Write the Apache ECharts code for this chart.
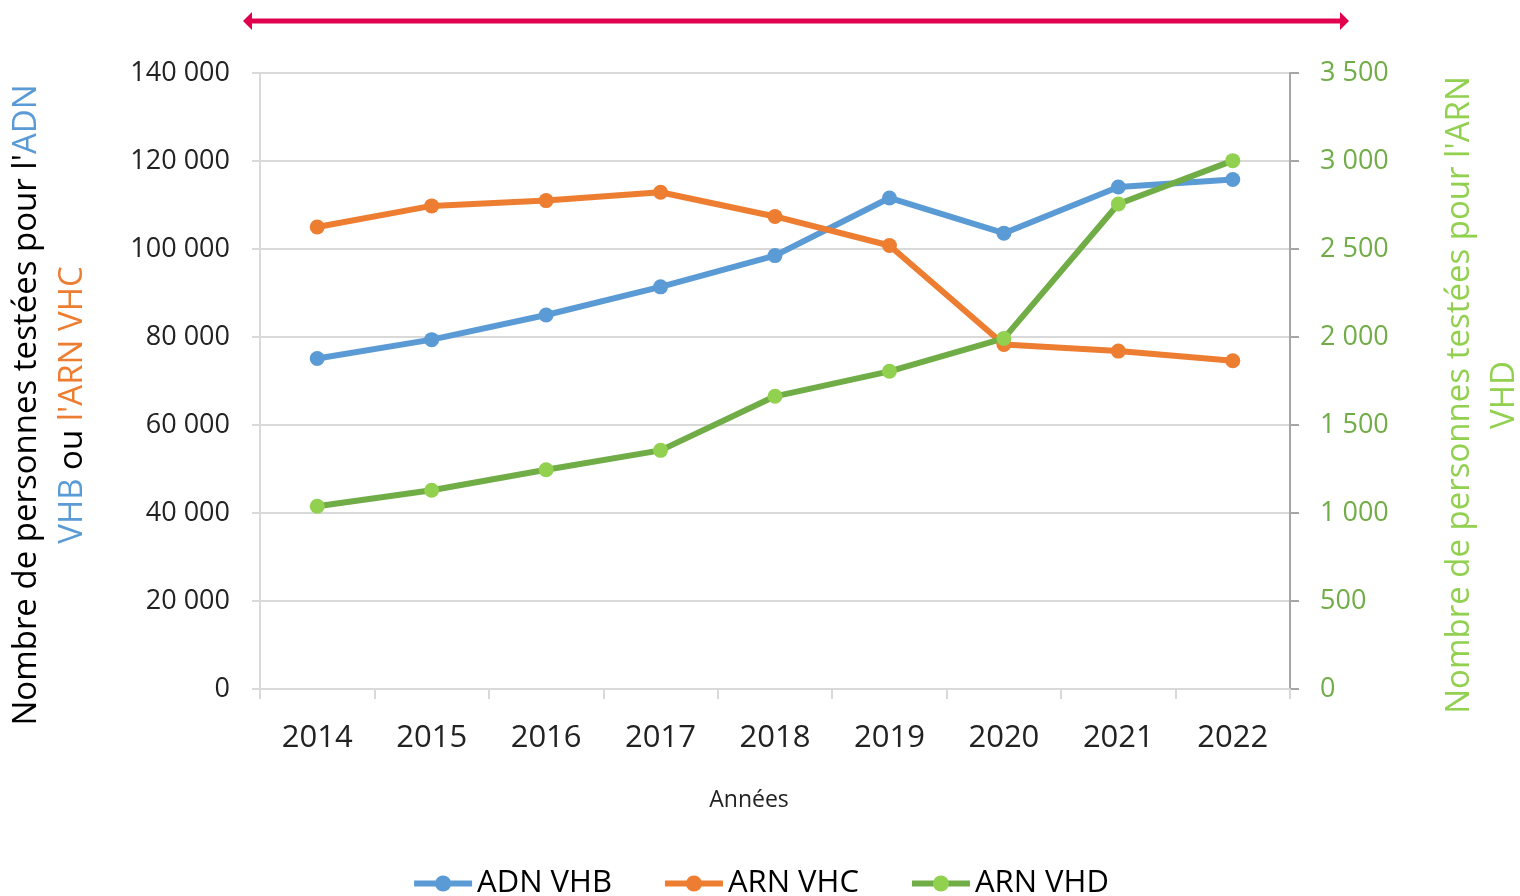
<!DOCTYPE html>
<html>
<head>
<meta charset="utf-8">
<script src="https://cdn.jsdelivr.net/npm/echarts@6/dist/echarts.min.js"></script>
<style>
  html, body { margin: 0; padding: 0; background: #fff; }
  #curve { width: 1520px; height: 896px; }
</style>
</head>
<body>
<div id="curve"></div>
<script>
var years = ['2014', '2015', '2016', '2017', '2018', '2019', '2020', '2021', '2022'];
var adnVhb = [75100, 79400, 85000, 91400, 98500, 111600, 103600, 114100, 115800];
var arnVhc = [105000, 109800, 111000, 112900, 107400, 100800, 78300, 76800, 74600];
var arnVhd = [1038, 1129, 1246, 1356, 1663, 1805, 1992, 2756, 3002];

var FONT = '"Open Sans", sans-serif';
var BLUE = '#5B9BD5', ORANGE = '#ED7D31', GREEN = '#70AD47', LGREEN = '#92D050', RED = '#E0004D';

// séparateur de milliers avec espace
function fmt(v) {
    return String(v).replace(/\B(?=(\d{3})+(?!\d))/g, ' ');
}

var myChart = echarts.init(document.getElementById('curve'));
var option = {
    animation: false,
    textStyle: { fontFamily: FONT },
    grid: { left: 260, right: 230, top: 73, bottom: 207 },
    legend: {
        bottom: -8,
        left: 'center',
        itemGap: 50,
        itemWidth: 58,
        itemHeight: 20,
        lineStyle: { width: 6 },
        textStyle: { fontSize: 31, color: '#000', fontFamily: FONT },
        data: ['ADN VHB', 'ARN VHC', 'ARN VHD']
    },
    xAxis: {
        type: 'category',
        data: years,
        boundaryGap: true,
        name: 'Années',
        nameLocation: 'middle',
        nameGap: 100,
        nameTextStyle: { fontSize: 23, color: '#222', fontFamily: FONT, padding: [0, 52, 0, 0] },
        axisLine: { lineStyle: { color: '#d9d9d9', width: 2 } },
        axisTick: { show: true, length: 10, lineStyle: { color: '#d9d9d9', width: 2 } },
        axisLabel: { fontSize: 31, color: '#222', margin: 34 }
    },
    yAxis: [
        {
            type: 'value',
            min: 0, max: 140000, interval: 20000,
            axisLine: { show: true, lineStyle: { color: '#d9d9d9', width: 2 } },
            axisTick: { show: true, length: 8, lineStyle: { color: '#d9d9d9', width: 2 } },
            splitLine: { lineStyle: { color: '#d9d9d9', width: 2 } },
            axisLabel: { fontSize: 27, color: '#222', margin: 30, formatter: fmt }
        },
        {
            type: 'value',
            min: 0, max: 3500, interval: 500,
            position: 'right',
            axisLine: { show: true, lineStyle: { color: '#a6a6a6', width: 2 } },
            axisTick: { show: true, length: 9, lineStyle: { color: '#a6a6a6', width: 2 } },
            splitLine: { show: false },
            axisLabel: { fontSize: 27, color: GREEN, margin: 30, formatter: fmt }
        }
    ],
    series: [
        {
            name: 'ADN VHB', type: 'line', yAxisIndex: 0, data: adnVhb,
            symbol: 'circle', symbolSize: 15,
            lineStyle: { color: BLUE, width: 6 },
            itemStyle: { color: BLUE }
        },
        {
            name: 'ARN VHC', type: 'line', yAxisIndex: 0, data: arnVhc,
            symbol: 'circle', symbolSize: 15,
            lineStyle: { color: ORANGE, width: 6 },
            itemStyle: { color: ORANGE }
        },
        {
            name: 'ARN VHD', type: 'line', yAxisIndex: 1, data: arnVhd,
            symbol: 'circle', symbolSize: 15,
            lineStyle: { color: GREEN, width: 6 },
            itemStyle: { color: LGREEN }
        }
    ],
    graphic: [
        /* flèche double en haut */
        { type: 'line', shape: { x1: 252, y1: 21, x2: 1340, y2: 21 }, style: { stroke: RED, lineWidth: 5 } },
        { type: 'polygon', shape: { points: [[243, 21], [252, 12], [252, 30]] }, style: { fill: RED } },
        { type: 'polygon', shape: { points: [[1349, 21], [1340, 12], [1340, 30]] }, style: { fill: RED } },
        /* titre axe gauche */
        {
            type: 'text', x: 27, y: 405, rotation: Math.PI / 2,
            style: {
                text: '{k|Nombre de personnes testées pour l\'}{b|ADN}',
                align: 'center', verticalAlign: 'middle',
                rich: {
                    k: { fontSize: 33, fill: '#000', fontFamily: FONT },
                    b: { fontSize: 33, fill: BLUE, fontFamily: FONT }
                }
            }
        },
        {
            type: 'text', x: 73, y: 405, rotation: Math.PI / 2,
            style: {
                text: '{b|VHB }{k|ou }{o|l\'ARN VHC}',
                align: 'center', verticalAlign: 'middle',
                rich: {
                    k: { fontSize: 33, fill: '#000', fontFamily: FONT },
                    b: { fontSize: 33, fill: BLUE, fontFamily: FONT },
                    o: { fontSize: 33, fill: ORANGE, fontFamily: FONT }
                }
            }
        },
        /* titre axe droit */
        {
            type: 'text', x: 1460, y: 395, rotation: Math.PI / 2,
            style: {
                text: 'Nombre de personnes testées pour l\'ARN',
                align: 'center', verticalAlign: 'middle',
                fontSize: 33, fill: LGREEN, fontFamily: FONT
            }
        },
        {
            type: 'text', x: 1505, y: 395, rotation: Math.PI / 2,
            style: {
                text: 'VHD',
                align: 'center', verticalAlign: 'middle',
                fontSize: 33, fill: LGREEN, fontFamily: FONT
            }
        }
    ]
};
myChart.setOption(option);
</script>
</body>
</html>
